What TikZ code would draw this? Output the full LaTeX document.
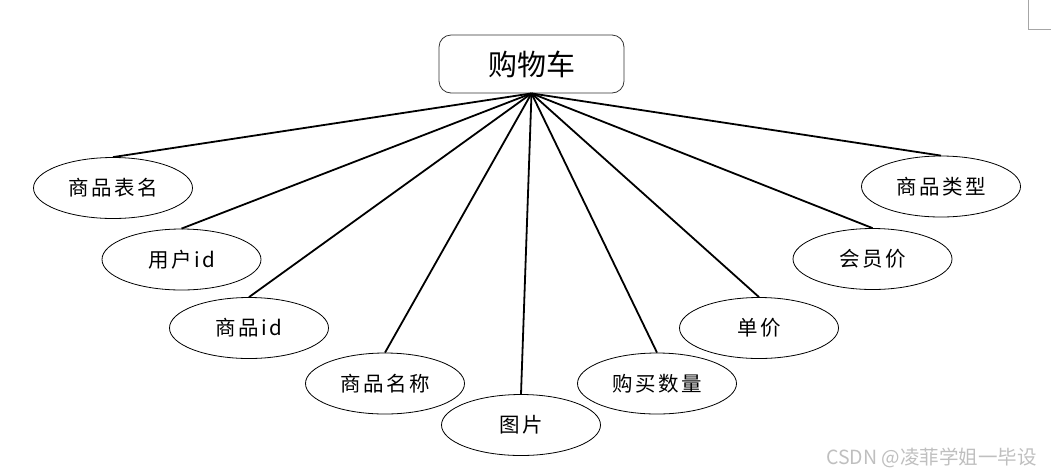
\documentclass[tikz,border=0pt]{standalone}
\usepackage{fontspec}
\usetikzlibrary{shapes.geometric}
\setmainfont{Noto Sans CJK SC}
\newfontfamily\cjk{Noto Sans CJK SC}
\newfontfamily\cjkspaced[LetterSpace=12]{Noto Sans CJK SC}
\begin{document}
\begin{tikzpicture}[x=1pt,y=-1pt,
  attr/.style={draw=black,line width=0.8pt,ellipse,minimum width=159pt,minimum height=61pt,inner sep=0pt,font=\cjkspaced\fontsize{20.5}{20.5}\selectfont},
  rootbox/.style={draw=black!80,line width=0.8pt,rounded corners=12pt,minimum width=185pt,minimum height=58pt,inner sep=0pt,font=\cjk\fontsize{29}{29}\selectfont},
  link/.style={line width=1.8pt,black}]
\useasboundingbox (0,0) rectangle (1051,475);
\node[rootbox] (root) at (531.5,64) {购物车};
\node[attr] (a1) at (113,188) {商品表名};
\node[attr] (a2) at (181.5,259.5) {用户id};
\node[attr] (a3) at (249,328) {商品id};
\node[attr] (a4) at (385,383.5) {商品名称};
\node[attr] (a5) at (521,425) {图片};
\node[attr] (a6) at (657,383.5) {购买数量};
\node[attr] (a7) at (759,328) {单价};
\node[attr] (a8) at (872.5,259) {会员价};
\node[attr] (a9) at (941,186.5) {商品类型};
\foreach \n in {a1,a2,a3,a4,a5,a6,a7,a8,a9}
  \draw[link] (root.south) -- (\n.north);
\coordinate (c1) at (1028,0);
\coordinate (c2) at (1028,29);
\coordinate (c3) at (1051,29);
\draw[black!35,line width=0.8pt] (c1) -- (c2) -- (c3);
\node[anchor=east,text=black!25,font=\cjk\fontsize{19.5}{19.5}\selectfont,inner sep=0pt] (wm) at (1037,458) {CSDN @凌菲学姐一毕设};
\end{tikzpicture}
\end{document}
